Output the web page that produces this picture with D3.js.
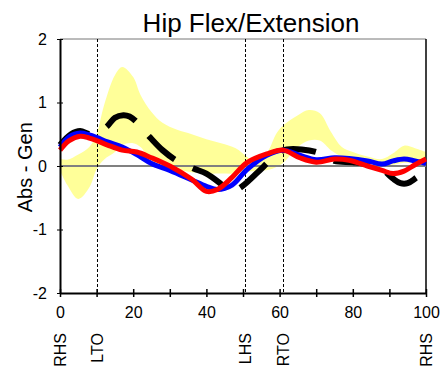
<!DOCTYPE html>
<meta charset="utf-8">
<script src="https://d3js.org/d3.v7.min.js"></script>
<style>
  body { margin: 0; background: #fff; }
  text { font-family: Arial, "Liberation Sans", sans-serif; }
</style>
<body>
<div id="hip_chart"></div>
<script>

// normal band (% gait cycle, lower / upper)
var bandX  = [0, 2, 5, 8, 10, 12, 15, 17, 20, 22, 25, 28, 32, 36, 40, 44, 48, 51, 54, 57, 59, 61, 65, 68, 71, 74, 77, 80, 84, 88, 91, 94, 97, 100];
var bandLo = [-0.07, -0.30, -0.52, -0.34, -0.05, 0.10, 0.22, 0.33, 0.36, 0.30, 0.08, -0.02, -0.06, -0.10, -0.12, -0.12, -0.12, -0.09, -0.08, -0.06, -0.02, 0.05, 0.30, 0.40, 0.40, 0.25, 0.15, 0.10, 0.08, 0.04, 0.02, 0.05, 0.05, 0.05];
var bandHi = [0.12, 0.10, 0.18, 0.30, 0.50, 0.95, 1.43, 1.56, 1.40, 1.12, 0.85, 0.68, 0.57, 0.50, 0.42, 0.36, 0.28, 0.15, 0.05, 0.25, 0.50, 0.64, 0.80, 0.88, 0.83, 0.54, 0.30, 0.22, 0.15, 0.11, 0.20, 0.32, 0.28, 0.22];

// left / right side
var lineX = [0, 2.5, 5.5, 8, 10, 13, 17, 21, 25, 30, 36, 40, 43, 47, 51, 56.5, 61, 65.5, 70, 75, 79, 84, 88, 91, 94, 97, 100];
var blueY = [0.30, 0.46, 0.52, 0.49, 0.45, 0.38, 0.30, 0.18, 0.04, -0.07, -0.22, -0.32, -0.37, -0.30, -0.06, 0.17, 0.25, 0.17, 0.10, 0.13, 0.12, 0.08, 0.03, 0.08, 0.11, 0.08, 0.04];
var redY  = [0.25, 0.40, 0.47, 0.44, 0.40, 0.33, 0.25, 0.22, 0.13, 0.00, -0.21, -0.40, -0.37, -0.18, 0.05, 0.19, 0.25, 0.13, 0.06, 0.11, 0.09, 0.00, -0.07, -0.12, -0.08, 0.02, 0.11];

// dashed black trace
var blackX = [0, 3, 5.5, 8, 10, 12.8, 15, 17.3, 19, 21, 23, 24.6, 28, 32, 36.5, 40, 43.7, 46, 48, 50, 54, 57.4, 60, 62, 66, 70, 72, 75, 80, 85, 88, 91, 93, 95, 97.5, 100];
var blackY = [0.33, 0.50, 0.55, 0.50, 0.50, 0.62, 0.76, 0.80, 0.78, 0.69, 0.55, 0.45, 0.25, 0.08, -0.04, -0.12, -0.27, -0.38, -0.38, -0.31, -0.1, 0.09, 0.22, 0.26, 0.26, 0.22, 0.17, 0.08, 0.06, 0.02, -0.05, -0.2, -0.27, -0.27, -0.18, -0.09];

var events = [0, 10, 50.6, 61, 100];
var eventNames = ["RHS", "LTO", "LHS", "RTO", "RHS"];
var yTicks = [-2, -1, 0, 1, 2];
var xTicks = [0, 10, 20, 30, 40, 50, 60, 70, 80, 90, 100];

var margin = {top: 39, right: 16, bottom: 73, left: 60},
    width = 442 - margin.left - margin.right,
    height = 366 - margin.top - margin.bottom;

var svg = d3.select("#hip_chart")
  .append("svg")
    .attr("width", 442)
    .attr("height", 366)
  .append("g")
    .attr("transform", "translate(" + margin.left + "," + margin.top + ")");

var x = d3.scaleLinear().domain([0, 100]).range([0, width]);
var y = d3.scaleLinear().domain([-2, 2]).range([height, 0]);

// band
var band = d3.area()
    .x(function(d, i) { return x(bandX[i]); })
    .y0(function(d, i) { return y(bandLo[i]); })
    .y1(function(d, i) { return y(bandHi[i]); })
    .curve(d3.curveCatmullRom);
svg.append("path")
    .datum(bandX)
    .attr("d", band)
    .attr("fill", "#ffff99");

// frame top / right
svg.append("line").attr("x1", 0).attr("x2", width).attr("y1", 0).attr("y2", 0)
    .attr("stroke", "#777").attr("stroke-width", 1);
svg.append("line").attr("x1", width).attr("x2", width).attr("y1", 0).attr("y2", height)
    .attr("stroke", "#000").attr("stroke-width", 1.5);

// zero line
svg.append("line")
    .attr("x1", 0).attr("x2", width)
    .attr("y1", y(0)).attr("y2", y(0))
    .attr("stroke", "#808080").attr("stroke-width", 2);

// event lines
svg.selectAll(".evt")
  .data(events.slice(1, 4))
  .enter()
  .append("line")
    .attr("x1", function(d) { return Math.round(x(d)) + 0.5; })
    .attr("x2", function(d) { return Math.round(x(d)) + 0.5; })
    .attr("y1", 0).attr("y2", height)
    .attr("stroke", "#000").attr("stroke-width", 1)
    .attr("stroke-dasharray", "3,2");

function trace(xs, ys) {
  return d3.line()
    .x(function(d, i) { return x(xs[i]); })
    .y(function(d, i) { return y(ys[i]); })
    .curve(d3.curveCatmullRom)(xs);
}

svg.append("path")
    .attr("d", trace(blackX, blackY))
    .attr("fill", "none")
    .attr("stroke", "#000")
    .attr("stroke-width", 6)
    .attr("stroke-dasharray", "35,20");

svg.append("path")
    .attr("d", trace(lineX, blueY))
    .attr("fill", "none")
    .attr("stroke", "#0000ff")
    .attr("stroke-width", 5);

svg.append("path")
    .attr("d", trace(lineX, redY))
    .attr("fill", "none")
    .attr("stroke", "#ff0000")
    .attr("stroke-width", 5);

// axes
var yAxis = svg.append("g")
    .call(d3.axisLeft(y).tickValues(yTicks).tickSize(3).tickPadding(10).tickSizeOuter(0)
      .tickFormat(function(d) { return String(d); }));
yAxis.selectAll(".tick line").attr("x1", 3).attr("stroke-width", 1);
yAxis.select(".domain").attr("stroke-width", 2);

var xAxis = svg.append("g")
    .attr("transform", "translate(0," + height + ")")
    .call(d3.axisBottom(x).tickValues(xTicks).tickSize(4).tickPadding(10).tickSizeOuter(0)
      .tickFormat(function(d) { return d % 20 === 0 ? d : ""; }));
xAxis.selectAll(".tick line").attr("y1", -4).attr("stroke-width", 1.5);
xAxis.select(".domain").attr("stroke-width", 2);

svg.selectAll(".tick text")
    .attr("font-size", "16px")
    .attr("font-family", "Arial, 'Liberation Sans', sans-serif")
    .attr("fill", "#000");

// event names
svg.selectAll(".evtname")
  .data(events)
  .enter()
  .append("text")
    .attr("transform", function(d) { return "translate(" + (x(d) + 6) + "," + (height + 40) + ") rotate(-90)"; })
    .attr("text-anchor", "end")
    .attr("font-size", "16px")
    .text(function(d, i) { return eventNames[i]; });

svg.append("text")
    .attr("x", 191)
    .attr("y", -7)
    .attr("text-anchor", "middle")
    .attr("font-size", "26px")
    .text("Hip Flex/Extension");

svg.append("text")
    .attr("transform", "translate(-28," + y(-0.02) + ") rotate(-90)")
    .attr("text-anchor", "middle")
    .attr("font-size", "20px")
    .style("white-space", "pre")
    .text("Abs - Gen");

</script>
</body>
